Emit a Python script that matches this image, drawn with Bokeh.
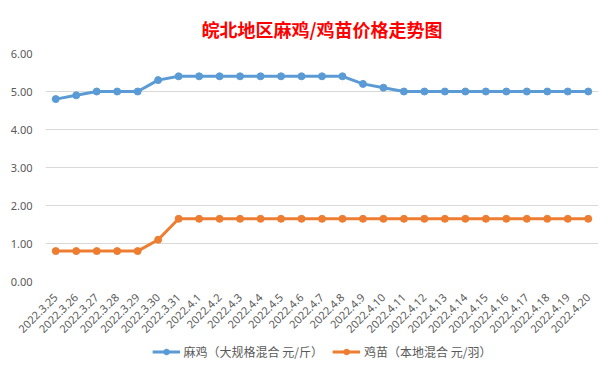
from math import pi
from bokeh.plotting import figure
from bokeh.layouts import column
from bokeh.models import ColumnDataSource, Range1d, Legend, LegendItem, PrintfTickFormatter, FixedTicker
from bokeh.embed import file_html
from bokeh.resources import INLINE

dates = ["2022.3.25", "2022.3.26", "2022.3.27", "2022.3.28", "2022.3.29", "2022.3.30", "2022.3.31",
         "2022.4.1", "2022.4.2", "2022.4.3", "2022.4.4", "2022.4.5", "2022.4.6", "2022.4.7",
         "2022.4.8", "2022.4.9", "2022.4.10", "2022.4.11", "2022.4.12", "2022.4.13", "2022.4.14",
         "2022.4.15", "2022.4.16", "2022.4.17", "2022.4.18", "2022.4.19", "2022.4.20"]
maji = [4.8, 4.9, 5.0, 5.0, 5.0, 5.3, 5.4,
        5.4, 5.4, 5.4, 5.4, 5.4, 5.4, 5.4,
        5.4, 5.2, 5.1, 5.0, 5.0, 5.0, 5.0,
        5.0, 5.0, 5.0, 5.0, 5.0, 5.0]
jimiao = [0.8, 0.8, 0.8, 0.8, 0.8, 1.1, 1.65,
          1.65, 1.65, 1.65, 1.65, 1.65, 1.65, 1.65,
          1.65, 1.65, 1.65, 1.65, 1.65, 1.65, 1.65,
          1.65, 1.65, 1.65, 1.65, 1.65, 1.65]
y_ticks = [0, 1, 2, 3, 4, 5, 6]
title_text = "皖北地区麻鸡/鸡苗价格走势图"
label1 = "麻鸡（大规格混合 元/斤）"
label2 = "鸡苗（本地混合 元/羽）"

c1 = "#5b9bd5"
c2 = "#ed7d31"

src = ColumnDataSource(data=dict(x=dates, a=maji, b=jimiao))

p = figure(width=600, height=339, x_range=dates, y_range=Range1d(0, 6),
           output_backend="svg", toolbar_location=None,
           min_border_left=45, min_border_right=2, min_border_top=53, min_border_bottom=58)
p.outline_line_color = None

p.title.text = title_text
p.title.align = "center"
p.title.offset = -14
p.title.standoff = 24
p.title.text_color = "#ff0000"
p.title.text_font = "Noto Sans CJK SC"
p.title.text_font_size = "18px"
p.title.text_font_style = "bold"

p.line("x", "a", source=src, line_color=c1, line_width=3)
p.scatter("x", "a", source=src, size=7, fill_color=c1, line_color=c1)
p.line("x", "b", source=src, line_color=c2, line_width=3)
p.scatter("x", "b", source=src, size=7, fill_color=c2, line_color=c2)

p.xgrid.grid_line_color = None
p.ygrid.grid_line_color = "#d9d9d9"

p.yaxis.ticker = FixedTicker(ticks=y_ticks)
p.yaxis.formatter = PrintfTickFormatter(format="%.2f")
for ax in (p.xaxis, p.yaxis):
    ax.axis_line_color = None
    ax.major_tick_line_color = None
    ax.minor_tick_line_color = None
    ax.major_label_text_color = "#595959"
    ax.major_label_text_font = "Noto Sans"
    ax.major_label_text_font_size = "11px"
p.yaxis.major_label_standoff = 7
p.xaxis.major_label_orientation = pi / 4
p.xaxis.major_label_standoff = 8

# legend strip: same series, drawn out of view, only their legend shows
lg = figure(width=600, height=24, x_range=dates, y_range=Range1d(100, 101),
            output_backend="svg", toolbar_location=None, min_border=0,
            x_axis_location=None, y_axis_location=None)
lg.outline_line_color = None
lg.grid.visible = False
e1 = lg.line("x", "a", source=src, line_color=c1, line_width=3)
f1 = lg.scatter("x", "a", source=src, size=7, fill_color=c1, line_color=c1)
e2 = lg.line("x", "b", source=src, line_color=c2, line_width=3)
f2 = lg.scatter("x", "b", source=src, size=7, fill_color=c2, line_color=c2)
legend = Legend(items=[LegendItem(label=label1, renderers=[e1, f1]),
                       LegendItem(label=label2, renderers=[e2, f2])],
                orientation="horizontal", location="center",
                label_text_font="Noto Sans CJK SC", label_text_font_size="12px",
                label_text_color="#595959", glyph_width=28, glyph_height=14,
                label_height=14, label_standoff=4, spacing=9,
                border_line_color=None, background_fill_alpha=0,
                margin=0, padding=2)
lg.add_layout(legend, "center")

open("out.html", "w").write(file_html(column(p, lg, spacing=0), INLINE))
